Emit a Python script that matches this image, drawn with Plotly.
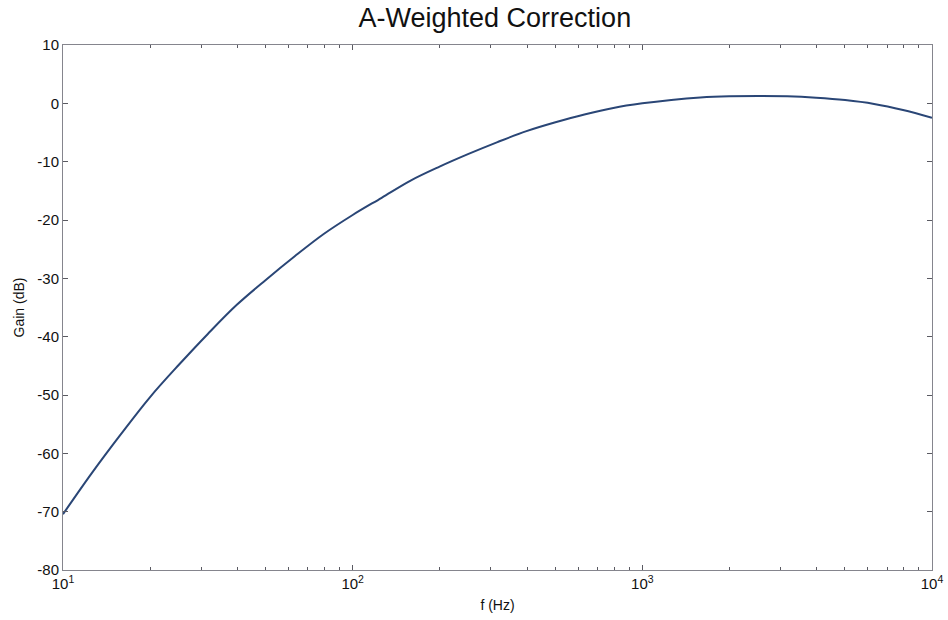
import plotly.graph_objects as go

freq_hz = [10, 12.59, 15.85, 19.95, 25.12, 31.62, 39.81, 50.12, 63.1, 79.43, 100,
           125.9, 158.5, 199.5, 251.2, 316.2, 398.1, 501.2, 631.0, 794.3, 1000,
           1259, 1585, 1995, 2512, 3162, 3981, 5012, 6310, 7943, 10000]
gain_db = [-70.43, -63.35, -56.71, -50.39, -44.82, -39.53, -34.54, -30.27, -26.22, -22.40,
           -19.14, -16.19, -13.24, -10.85, -8.67, -6.64, -4.77, -3.25, -1.91, -0.79, 0.0,
           0.58, 0.99, 1.20, 1.27, 1.20, 0.96, 0.56, -0.11, -1.15, -2.49]
x_tick_vals = [10, 100, 1000, 10000]
x_tick_text = ["10<sup>1</sup>", "10<sup>2</sup>", "10<sup>3</sup>", "10<sup>4</sup>"]
x_minor_vals = [m * d for d in (10, 100, 1000) for m in range(2, 10)]
y_tick_vals = [10, 0, -10, -20, -30, -40, -50, -60, -70, -80]
y_tick_text = ["10", "0", "-10", "-20", "-30", "-40", "-50", "-60", "-70", "-80"]

FONT = "Liberation Sans, Arial"

fig = go.Figure()
fig.add_trace(go.Scatter(x=freq_hz, y=gain_db, mode="lines",
                         line=dict(color="#2a4676", width=2, shape="spline", smoothing=1.0),
                         showlegend=False, hoverinfo="skip"))

axis_common = dict(showline=True, linecolor="#85858d", linewidth=1, mirror="ticks",
                   ticks="inside", tickcolor="#5a5a62", ticklen=5, showgrid=False,
                   zeroline=False, automargin=False,
                   tickfont=dict(family=FONT, size=15, color="#111"))

fig.update_xaxes(type="log", range=[1, 4], tickmode="array", tickvals=x_tick_vals, ticktext=x_tick_text,
                 minor=dict(tickmode="array", tickvals=x_minor_vals, ticks="inside", ticklen=3,
                            tickcolor="#5a5a62", showgrid=False),
                 title=dict(text="f (Hz)", font=dict(family=FONT, size=14, color="#111"), standoff=9),
                 **axis_common)
fig.update_yaxes(range=[-80, 10], tickmode="array", tickvals=y_tick_vals, ticktext=y_tick_text,
                 title=dict(text="Gain (dB)", font=dict(family=FONT, size=14, color="#111"), standoff=9),
                 **axis_common)

fig.update_layout(
    width=948, height=620,
    margin=dict(l=63, r=16, t=45, b=50),
    paper_bgcolor="white", plot_bgcolor="white",
    title=dict(text="A-Weighted Correction", x=0.522, xanchor="center", y=0.971, yanchor="middle",
               font=dict(family=FONT, size=27, color="#111"), automargin=False),
)

fig.write_html("out.html", config={"displayModeBar": False},
               post_script="document.body.style.margin='0';document.body.style.overflow='hidden';")
